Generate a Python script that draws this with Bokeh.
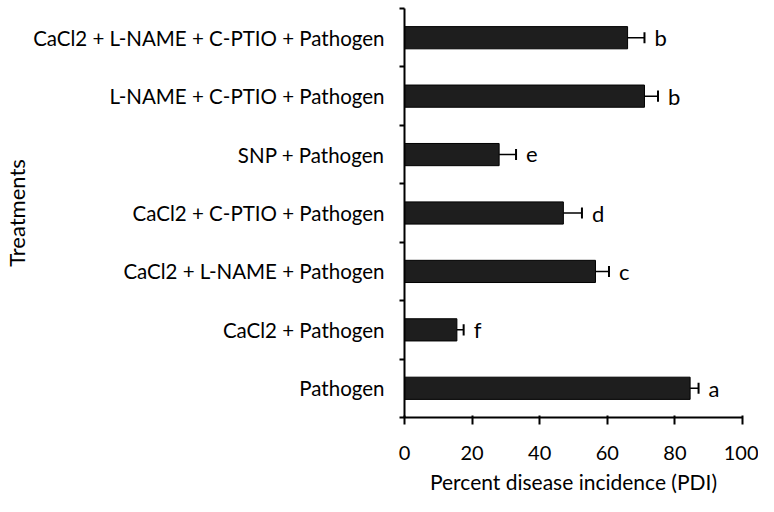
from bokeh.plotting import figure
from bokeh.models import FixedTicker, ColumnDataSource
from bokeh.core.properties import value
from bokeh.embed import file_html
from bokeh.resources import INLINE

treatments = [
    "Pathogen",
    "CaCl2 + Pathogen",
    "CaCl2 + L-NAME + Pathogen",
    "CaCl2 + C-PTIO + Pathogen",
    "SNP + Pathogen",
    "L-NAME + C-PTIO + Pathogen",
    "CaCl2 + L-NAME + C-PTIO + Pathogen",
]
pdi = [84.5, 15.5, 56.5, 47, 28, 71, 66]
err = [2.5, 2, 4, 5.5, 5, 4, 5]
letters = ["a", "f", "c", "d", "e", "b", "b"]
x_ticks = [0, 20, 40, 60, 80, 100]

FONT = "Lato"
n = len(treatments)
ypos = [i + 0.5 for i in range(n)]
hi = [v + e for v, e in zip(pdi, err)]

src = ColumnDataSource(dict(y=ypos, v=pdi, hi=hi, lab=letters,
                            cl=[y - 0.095 for y in ypos], ch=[y + 0.095 for y in ypos]))

p = figure(width=758, height=496, output_backend="svg", toolbar_location=None,
           x_range=(0, 100), y_range=(0, n),
           min_border_left=403, min_border_right=16, min_border_top=8, min_border_bottom=73)
p.outline_line_color = None
p.grid.visible = False
p.background_fill_color = "white"

p.hbar(y="y", left=0, right="v", height=0.38, source=src,
       fill_color="#1e1e1e", line_color="#000000", line_width=1)
p.segment(x0="v", y0="y", x1="hi", y1="y", source=src, line_color="black", line_width=1.5)
p.segment(x0="hi", y0="cl", x1="hi", y1="ch", source=src, line_color="black", line_width=2)
p.text(x="hi", y="y", text="lab", source=src, x_offset=10,
       text_font=value(FONT), text_font_size="22px", text_baseline="middle",
       text_align="left", text_color="black")

xa = p.xaxis[0]
xa.ticker = FixedTicker(ticks=x_ticks)
xa.axis_line_width = 2
xa.axis_line_color = "black"
xa.major_tick_in = 2
xa.major_tick_out = 7
xa.major_tick_line_width = 2
xa.minor_tick_line_color = None
xa.major_label_text_font = FONT
xa.major_label_text_font_size = "20px"
xa.major_label_text_color = "black"
xa.major_label_standoff = 21
xa.axis_label = "Percent disease incidence (PDI)"
xa.axis_label_text_font = FONT
xa.axis_label_text_font_size = "21px"
xa.axis_label_text_font_style = "normal"
xa.axis_label_text_color = "black"
xa.axis_label_standoff = 6

ya = p.yaxis[0]
ya.ticker = FixedTicker(ticks=ypos, minor_ticks=list(range(n + 1)))
ya.major_label_overrides = {y: t for y, t in zip(ypos, treatments)}
ya.major_tick_line_color = None
ya.minor_tick_in = 0
ya.minor_tick_out = 5
ya.minor_tick_line_width = 2
ya.minor_tick_line_color = "black"
ya.axis_line_width = 2
ya.axis_line_color = "black"
ya.major_label_text_font = FONT
ya.major_label_text_font_size = "20.5px"
ya.major_label_text_color = "black"
ya.major_label_standoff = 14
ya.axis_label = "Treatments"
ya.axis_label_text_font = FONT
ya.axis_label_text_font_size = "22px"
ya.axis_label_text_line_height = 1.0
ya.axis_label_text_font_style = "normal"
ya.axis_label_text_color = "black"
ya.axis_label_standoff = 0

open("out.html", "w").write(file_html(p, INLINE))
